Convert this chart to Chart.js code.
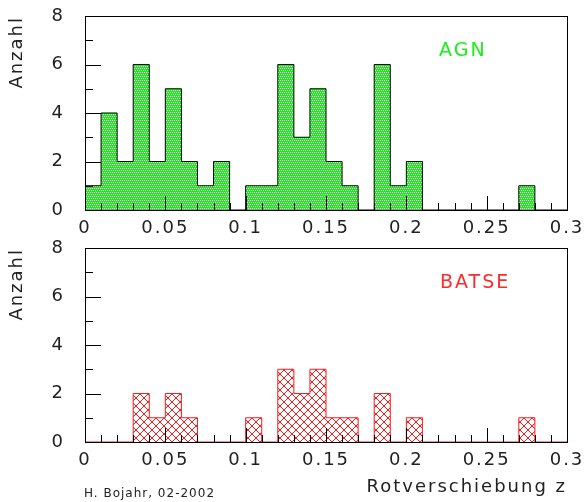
<!DOCTYPE html>
<html>
<head>
<meta charset="utf-8">
<script src="https://cdn.jsdelivr.net/npm/chart.js@4/dist/chart.umd.min.js"></script>
<style>
  body { margin: 0; background: #fff; }
  #wrap { position: relative; width: 586px; height: 502px; }
  canvas { position: absolute; left: 0; }
  #oben { top: 0; }
  #unten { top: 230px; }
  #autor { position: absolute; left: 84px; top: 486px; font: 12px "DejaVu Sans", sans-serif; letter-spacing: 1px; color: #222; }
</style>
</head>
<body>
<div id="wrap">
  <canvas id="oben" width="586" height="240"></canvas>
  <canvas id="unten" width="586" height="272"></canvas>
  <div id="autor">H. Bojahr, 02-2002</div>
</div>
<script>
// Histogramme: Anzahl pro Rotverschiebungs-Bin (Breite 0.01)
const zLow = [0, 0.01, 0.02, 0.03, 0.04, 0.05, 0.06, 0.07, 0.08, 0.09,
  0.10, 0.11, 0.12, 0.13, 0.14, 0.15, 0.16, 0.17, 0.18, 0.19,
  0.20, 0.21, 0.22, 0.23, 0.24, 0.25, 0.26, 0.27, 0.28, 0.29];
const zMax = 0.3;
const agnCounts = [1, 4, 2, 6, 2, 5, 2, 1, 2, 0,
  1, 1, 6, 3, 5, 2, 1, 0, 6, 1,
  2, 0, 0, 0, 0, 0, 0, 1, 0, 0];
const batseCounts = [0, 0, 0, 2, 1, 2, 1, 0, 0, 0,
  1, 0, 3, 2, 3, 1, 1, 0, 2, 0,
  1, 0, 0, 0, 0, 0, 0, 1, 0, 0];
const xTicks = [0, 0.05, 0.1, 0.15, 0.2, 0.25, 0.3];
const xTickLabels = ["0", "0.05", "0.1", "0.15", "0.2", "0.25", "0.3"];
const yTicks = [0, 2, 4, 6, 8];

const FONT = "DejaVu Sans";
const TXT = "#222";

// Schritt-Kontur aus den Bins (Start bei 0, Ende bei zMax)
function stufen(counts) {
  const pts = [{ x: zLow[0], y: 0 }];
  counts.forEach((n, i) => pts.push({ x: zLow[i], y: n }));
  pts.push({ x: zMax, y: 0 });
  return pts;
}

function gruenMuster() {
  const c = document.createElement("canvas");
  c.width = 8; c.height = 8;
  const g = c.getContext("2d");
  g.fillStyle = "#14ee14";
  g.fillRect(0, 0, 8, 8);
  g.fillStyle = "#ffffff";
  for (let i = 0; i < 8; i += 2) {
    for (let j = 0; j < 8; j += 2) {
      g.fillRect(i + (j % 4 === 0 ? 0 : 1), j, 1, 1);
    }
  }
  return g.createPattern(c, "repeat");
}

function kreuzMuster() {
  const c = document.createElement("canvas");
  c.width = 8; c.height = 8;
  const g = c.getContext("2d");
  g.fillStyle = "#ff1a1a";
  for (let i = 0; i < 8; i++) {
    g.fillRect(i, i, 1, 1);
    g.fillRect(7 - i, i, 1, 1);
  }
  return g.createPattern(c, "repeat");
}

// Rahmen, Ticks nach innen, Beschriftung im Plot
const rahmen = {
  id: "rahmen",
  beforeUpdate(chart) {
    chart.ctx.letterSpacing = "2px";
  },
  afterDatasetsDraw(chart, args, opts) {
    const { ctx, chartArea: a, scales: { x, y } } = chart;
    ctx.save();
    ctx.strokeStyle = "#000";
    ctx.lineWidth = 1;
    ctx.beginPath();
    for (let i = 0; i <= 30; i++) {
      const px = Math.round(x.getPixelForValue(i / 100)) + 0.5;
      const len = i % 5 === 0 ? 14 : 7;
      ctx.moveTo(px, a.bottom);
      ctx.lineTo(px, a.bottom - len);
    }
    for (let v = 0; v <= 8; v++) {
      const py = Math.round(y.getPixelForValue(v)) + 0.5;
      const len = v % 2 === 0 ? 16 : 8;
      ctx.moveTo(a.left, py);
      ctx.lineTo(a.left + len, py);
    }
    ctx.stroke();
    ctx.strokeRect(Math.round(a.left) + 0.5, Math.round(a.top) + 0.5,
      Math.round(a.right - a.left), Math.round(a.bottom - a.top));
    ctx.letterSpacing = "2px";
    ctx.font = "19px '" + FONT + "'";
    ctx.fillStyle = opts.farbe;
    ctx.textBaseline = "alphabetic";
    ctx.fillText(opts.text, opts.px, opts.py);
    ctx.restore();
  }
};

function optionen(ziel, xh, titel, label) {
  return {
    responsive: false,
    animation: false,
    layout: { padding: { top: ziel.top, right: 19, left: 0, bottom: 0 } },
    plugins: {
      legend: { display: false },
      tooltip: { enabled: false },
      rahmen: label
    },
    elements: { point: { radius: 0 } },
    scales: {
      x: {
        type: "linear",
        min: 0,
        max: zMax,
        afterBuildTicks: s => { s.ticks = xTicks.map(v => ({ value: v })); },
        afterFit: s => {
          s.height = xh;
          s.paddingLeft = 0;
          s.paddingRight = 0;
        },
        grid: { display: false, drawTicks: false },
        border: { display: false },
        ticks: {
          padding: 8,
          color: TXT,
          font: { family: FONT, size: 18 },
          maxRotation: 0,
          callback: (v, i) => xTickLabels[i]
        },
        title: titel
      },
      y: {
        min: 0,
        max: 8,
        afterBuildTicks: s => { s.ticks = yTicks.map(v => ({ value: v })); },
        afterFit: s => {
          s.width = ziel.left;
          s.paddingTop = 0;
          s.paddingBottom = 0;
        },
        grid: { display: false, drawTicks: false },
        border: { display: false },
        ticks: { padding: 20, color: TXT, font: { family: FONT, size: 18 } },
        title: {
          display: true,
          text: "Anzahl",
          align: "end",
          color: TXT,
          font: { family: FONT, size: 18 },
          padding: { top: 7, bottom: 0 }
        }
      }
    }
  };
}

function histogramm(id, counts, muster, linie, titel, label, ziel, xh) {
  return new Chart(document.getElementById(id), {
    type: "line",
    data: {
      datasets: [{
        label: label.text,
        data: stufen(counts),
        stepped: true,
        fill: "origin",
        backgroundColor: muster,
        borderColor: linie,
        borderWidth: 1
      }]
    },
    options: optionen(ziel, xh, titel, label),
    plugins: [rahmen]
  });
}

document.addEventListener("DOMContentLoaded", () => {
  histogramm("oben", agnCounts, gruenMuster(), "#000", { display: false },
    { text: "AGN", farbe: "#19f019", px: 439, py: 56 },
    { left: 85, top: 16 }, 30);

  histogramm("unten", batseCounts, kreuzMuster(), "#ff1a1a", {
    display: true,
    text: "Rotverschiebung z",
    align: "end",
    color: TXT,
    font: { family: FONT, size: 18 },
    padding: { top: 0, bottom: 4 }
  }, { text: "BATSE", farbe: "#ff2a2a", px: 440, py: 58 },
    { left: 85, top: 18 }, 60);
});
</script>
</body>
</html>
